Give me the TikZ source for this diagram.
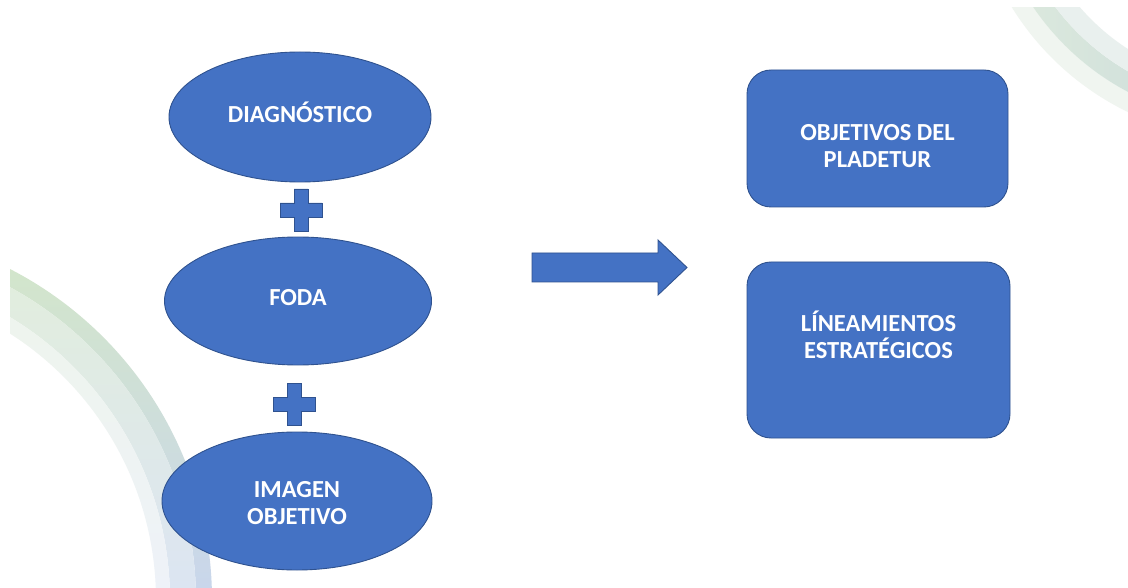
\documentclass[tikz,border=0pt]{standalone}
\usepackage{fontspec}
\setmainfont{Carlito}
\usetikzlibrary{shapes.geometric}
\definecolor{myblue}{HTML}{4472C4}
\definecolor{myborder}{HTML}{2F528F}
\definecolor{gA}{HTML}{D3E6CA}
\definecolor{bA}{HTML}{C9D6EB}
\definecolor{gB}{HTML}{E2EEDC}
\definecolor{bB}{HTML}{DCE5F2}
\definecolor{gC}{HTML}{EEF5EB}
\definecolor{bC}{HTML}{EEF2F8}
\definecolor{tA}{HTML}{F0F5F0}
\definecolor{tB}{HTML}{DDEADD}
\definecolor{tB2}{HTML}{D3E2DC}
\definecolor{tC}{HTML}{E9F0EE}
\tikzset{
  shapefill/.style={fill=myblue, draw=myborder, line width=0.9pt},
  ell/.style={shapefill, ellipse, inner sep=0pt},
  rbox/.style={shapefill, rectangle, rounded corners=24pt, inner sep=0pt},
  txt/.style={text=white, font=\fontsize{24.5}{27.5}\selectfont\bfseries, align=center},
}
\begin{document}
\begin{tikzpicture}[x=1pt,y=-1pt]
\useasboundingbox[fill=white] (0,0) rectangle (1128,588);
% background decorations
\begin{scope}
  \clip (10,8) rectangle (1128,588);
  \coordinate (lc) at (-160,600);
  \begin{scope}[even odd rule]
    \clip (lc) circle[radius=372pt] (lc) circle[radius=356pt];
    \shade[top color=gA, bottom color=bA] (0,255) rectangle (260,588);
  \end{scope}
  \begin{scope}[even odd rule]
    \clip (lc) circle[radius=356pt] (lc) circle[radius=330pt];
    \shade[top color=gB, bottom color=bB] (0,255) rectangle (260,588);
  \end{scope}
  \begin{scope}[even odd rule]
    \clip (lc) circle[radius=330pt] (lc) circle[radius=316pt];
    \shade[top color=gC, bottom color=bC] (0,255) rectangle (260,588);
  \end{scope}
  \coordinate (rc) at (1250,-140);
  \begin{scope}[even odd rule]
    \clip (rc) circle[radius=280pt] (rc) circle[radius=262pt];
    \fill[tA] (1000,0) rectangle (1128,120);
  \end{scope}
  \begin{scope}[even odd rule]
    \clip (rc) circle[radius=262pt] (rc) circle[radius=244pt];
    \shade[left color=tB, right color=tB2] (1000,0) rectangle (1128,120);
  \end{scope}
  \begin{scope}[even odd rule]
    \clip (rc) circle[radius=244pt] (rc) circle[radius=225pt];
    \fill[tC] (1000,0) rectangle (1128,120);
  \end{scope}
\end{scope}
% ellipses
\node[ell, minimum width=262pt, minimum height=130pt] (diag) at (300,117) {};
\node[txt] (diagt) at (300,112) {DIAGNÓSTICO};
\node[ell, minimum width=267pt, minimum height=128pt] (foda) at (298,301) {};
\node[txt] (fodat) at (298,298) {FODA};
\node[ell, minimum width=270pt, minimum height=138pt] (imag) at (297,501) {};
\node[txt] (imagt) at (297,503) {IMAGEN\\OBJETIVO};
% plus signs
\foreach \cx/\cy in {301/210, 294/404}{
  \draw[shapefill] (\cx-7,\cy-21) -- (\cx+7,\cy-21) -- (\cx+7,\cy-7) -- (\cx+21,\cy-7)
    -- (\cx+21,\cy+7) -- (\cx+7,\cy+7) -- (\cx+7,\cy+21) -- (\cx-7,\cy+21)
    -- (\cx-7,\cy+7) -- (\cx-21,\cy+7) -- (\cx-21,\cy-7) -- (\cx-7,\cy-7) -- cycle;
}
% block arrow
\draw[shapefill] (532,253) -- (658,253) -- (658,240) -- (687,267.5) -- (658,295)
  -- (658,282) -- (532,282) -- cycle;
% boxes
\node[rbox, minimum width=261pt, minimum height=137pt] (obj) at (877.5,138.5) {};
\node[txt] (objt) at (877.5,146) {OBJETIVOS DEL\\PLADETUR};
\node[rbox, minimum width=263pt, minimum height=176pt] (lin) at (878.5,350) {};
\node[txt] (lint) at (878.5,335) {LÍNEAMIENTOS\\ESTRATÉGICOS};
\end{tikzpicture}
\end{document}
